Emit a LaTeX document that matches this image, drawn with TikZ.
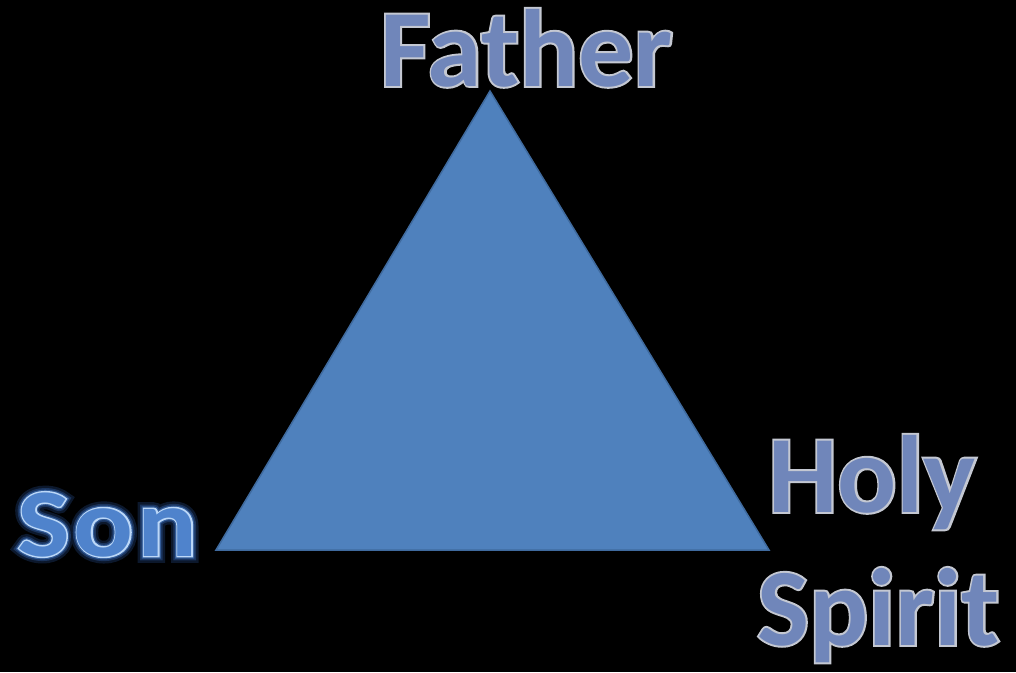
\documentclass[tikz,border=0pt]{standalone}
\usepackage{fontspec}
\setmainfont{Carlito}
\newfontfamily\greyoutfont[FakeBold=3.6]{Carlito Bold}
\newfontfamily\songlowfont[FakeBold=14,FakeStretch=1.15,LetterSpace=4]{Carlito Bold}
\newfontfamily\sonmidfont[FakeBold=9,FakeStretch=1.15,LetterSpace=4]{Carlito Bold}
\newfontfamily\soninnerfont[FakeBold=5.5,FakeStretch=1.15,LetterSpace=4]{Carlito Bold}
\newfontfamily\sonoutfont[FakeBold=3,FakeStretch=1.15,LetterSpace=4]{Carlito Bold}
\newfontfamily\sonfont[FakeStretch=1.15,LetterSpace=4]{Carlito Bold}
\definecolor{trifill}{HTML}{4F81BD}
\definecolor{triedge}{HTML}{3F6A9E}
\definecolor{greyblue}{HTML}{7086BA}
\definecolor{greyline}{HTML}{C4C8D2}
\definecolor{sonfill}{HTML}{4F83CC}
\definecolor{sonline}{HTML}{BCD8F8}
\definecolor{songlowa}{HTML}{0C182C}
\definecolor{songlowb}{HTML}{1A345E}
\definecolor{songlowc}{HTML}{335C98}
\tikzset{
  lbl/.style={inner sep=0pt, anchor=base west, font=\fontsize{110}{132}\selectfont\bfseries},
  sonlbl/.style={inner sep=0pt, anchor=base west},
}
\begin{document}
\begin{tikzpicture}[x=1pt,y=-1pt]
\fill[black] (0,0) rectangle (1016,672);
\useasboundingbox (0,0) rectangle (1016,672);
\coordinate (apex) at (490,91);
\coordinate (left) at (216,550);
\coordinate (right) at (769,550);
\draw[fill=trifill, draw=triedge, line width=1.5pt, line join=miter] (apex) -- (left) -- (right) -- cycle;
% Father
\node[lbl, font=\fontsize{110}{132}\selectfont\greyoutfont, text=greyline] (fatherout) at (380,86) {Father};
\node[lbl, text=greyblue] (father) at (380,86) {Father};
% Son
\node[sonlbl, font=\fontsize{97}{116}\selectfont\songlowfont, text=songlowa] (songlowouter) at (17,556) {Son};
\node[sonlbl, font=\fontsize{97}{116}\selectfont\sonmidfont, text=songlowb] (songlowmid) at (17,556) {Son};
\node[sonlbl, font=\fontsize{97}{116}\selectfont\soninnerfont, text=songlowc] (songlowinner) at (17,556) {Son};
\node[sonlbl, font=\fontsize{97}{116}\selectfont\sonoutfont, text=sonline] (sonout) at (17,556) {Son};
\node[sonlbl, font=\fontsize{97}{116}\selectfont\sonfont, text=sonfill] (son) at (17,556) {Son};
% Holy Spirit
\node[lbl, font=\fontsize{110}{132}\selectfont\greyoutfont, text=greyline] (holyout) at (768,512) {Holy};
\node[lbl, text=greyblue] (holy) at (768,512) {Holy};
\node[lbl, font=\fontsize{110}{132}\selectfont\greyoutfont, text=greyline] (spiritout) at (757,645) {Spirit};
\node[lbl, text=greyblue] (spirit) at (757,645) {Spirit};
\end{tikzpicture}
\end{document}
